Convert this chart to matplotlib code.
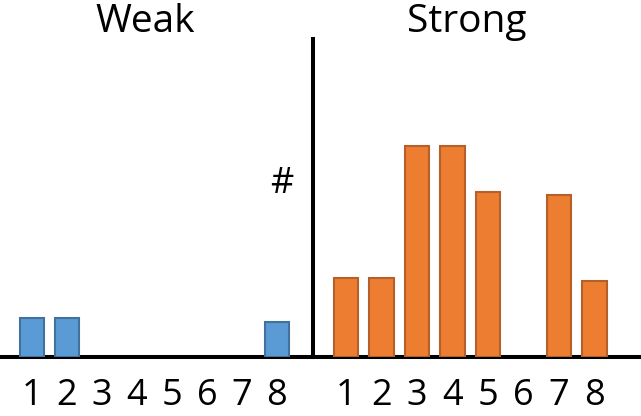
import matplotlib
matplotlib.use('Agg')
import matplotlib.pyplot as plt

plt.rcParams['font.family'] = ['Open Sans', 'DejaVu Sans']

# Data (relative counts)
positions = [1, 2, 3, 4, 5, 6, 7, 8]
tick_labels = ['1', '2', '3', '4', '5', '6', '7', '8']
weak_counts = [1.0, 1.0, 0, 0, 0, 0, 0, 0.9]
strong_counts = [2.03, 2.03, 5.42, 5.42, 4.22, 0, 4.15, 1.96]

W, H = 641, 416
fig = plt.figure(figsize=(W / 100, H / 100), dpi=100)

ax_w = fig.add_axes([0, 59 / H, 313 / W, 318 / H])
ax_s = fig.add_axes([313 / W, 59 / H, 328 / W, 318 / H])

ymax = 318 / 39

panels = [
    (ax_w, weak_counts, '#5B9BD5', '#41719C', (0.0857, 9.03), 'Weak', 145),
    (ax_s, strong_counts, '#ED7D31', '#B4602A', (0.07, 9.31), 'Strong', 467),
]

for ax, counts, fc, ec, xlim, title, tx in panels:
    xs = [p for p, c in zip(positions, counts) if c > 0]
    hs = [c for c in counts if c > 0]
    ax.bar(xs, hs, width=0.7, color=fc, edgecolor=ec, linewidth=1.5, zorder=3)
    ax.set_xlim(*xlim)
    ax.set_ylim(0, ymax)
    ax.set_xticks(positions)
    ax.set_xticklabels(tick_labels, fontsize=26)
    ax.tick_params(axis='x', length=0, pad=15)
    ax.set_yticks([])
    for s in ['top', 'right', 'left']:
        ax.spines[s].set_visible(False)
    ax.spines['bottom'].set_linewidth(2.9)
    ax.patch.set_alpha(0)
    fig.text(tx / W, 1 - 32 / H, title, fontsize=28, ha='center', va='baseline')

ax_s.spines['left'].set_visible(True)
ax_s.spines['left'].set_linewidth(2.9)

fig.text(282 / W, 1 - 184 / H, '#', fontsize=26, ha='center', va='center')

fig.savefig('out.png', dpi=100)
